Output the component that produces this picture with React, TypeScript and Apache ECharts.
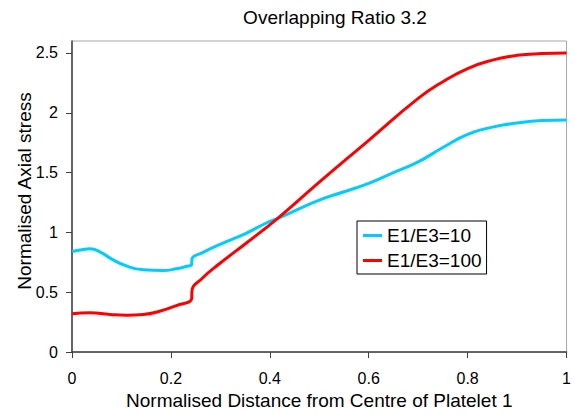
import React, { useEffect, useRef } from "react";
import * as echarts from "echarts";

const titleText = "Overlapping Ratio 3.2";
const xAxisTitle = "Normalised Distance from Centre of Platelet 1";
const yAxisTitle = "Normalised Axial stress";

const seriesNames = ["E1/E3=10", "E1/E3=100"];

const cyanX = [0, 0.02, 0.036, 0.06, 0.077, 0.11, 0.144, 0.184, 0.211, 0.23, 0.242, 0.2425, 0.264, 0.312, 0.352, 0.392, 0.416, 0.45, 0.5, 0.55, 0.6, 0.65, 0.7, 0.75, 0.8, 0.85, 0.9, 0.95, 1.0];
const cyanY = [0.84, 0.855, 0.863, 0.83, 0.785, 0.72, 0.688, 0.682, 0.696, 0.715, 0.735, 0.777, 0.832, 0.923, 0.993, 1.077, 1.118, 1.18, 1.27, 1.34, 1.41, 1.5, 1.59, 1.71, 1.82, 1.88, 1.915, 1.935, 1.94];

const redX = [0, 0.036, 0.077, 0.11, 0.144, 0.177, 0.211, 0.242, 0.2425, 0.264, 0.298, 0.352, 0.416, 0.5, 0.6, 0.7, 0.75, 0.8, 0.85, 0.9, 0.95, 1.0];
const redY = [0.32, 0.328, 0.314, 0.308, 0.314, 0.341, 0.389, 0.447, 0.508, 0.619, 0.738, 0.91, 1.118, 1.42, 1.77, 2.12, 2.26, 2.37, 2.44, 2.48, 2.495, 2.5];

const xTicks = [0, 0.2, 0.4, 0.6, 0.8, 1];
const yTicks = [0, 0.5, 1, 1.5, 2, 2.5];

const colors = ["#00CCFF", "#FF0000"];

function pairs(xs: number[], ys: number[]) {
  return xs.map((x, i) => [x, ys[i]]);
}

export default function App() {
  const ref = useRef<HTMLDivElement>(null);
  useEffect(() => {
    if (!ref.current) return;
    const chart = echarts.init(ref.current, null, { renderer: "svg" });
    const font = "Liberation Sans, Arial, sans-serif";
    chart.setOption({
      animation: false,
      backgroundColor: "#ffffff",
      textStyle: { fontFamily: font },
      grid: {
        left: 72,
        right: 6,
        top: 41,
        bottom: 62,
        show: true,
        borderColor: "#a6a6a6",
        borderWidth: 1,
        backgroundColor: "#ffffff",
      },
      graphic: [
        {
          type: "text",
          x: 335,
          y: 17,
          style: {
            text: titleText,
            align: "center",
            verticalAlign: "middle",
            fontSize: 19,
            fontFamily: font,
            fill: "#000",
          },
        },
        {
          type: "text",
          x: 24,
          y: 191,
          rotation: Math.PI / 2,
          style: {
            text: yAxisTitle,
            align: "center",
            verticalAlign: "middle",
            fontSize: 19,
            fontFamily: font,
            fill: "#000",
          },
        },
      ],
      legend: {
        left: 357,
        top: 221,
        orient: "vertical",
        data: seriesNames,
        icon: "rect",
        itemWidth: 19,
        itemHeight: 3,
        itemGap: 6,
        padding: [5, 5, 4, 6],
        borderColor: "#000",
        borderWidth: 1,
        backgroundColor: "#fff",
        textStyle: { fontSize: 19, color: "#000", fontFamily: font },
      },
      xAxis: {
        type: "value",
        min: 0,
        max: 1,
        interval: 0.2,
        name: xAxisTitle,
        nameLocation: "middle",
        nameGap: 33,
        nameTextStyle: { fontSize: 19, color: "#000", fontFamily: font },
        axisLine: { onZero: false, lineStyle: { color: "#404040", width: 1.5 } },
        axisTick: { show: true, length: 6, customValues: xTicks, lineStyle: { color: "#404040" } },
        axisLabel: {
          customValues: xTicks,
          fontSize: 16,
          color: "#000",
          margin: 18,
          formatter: (v: number) => String(Math.round(v * 10) / 10),
        },
        splitLine: { show: false },
      },
      yAxis: {
        type: "value",
        min: 0,
        max: 2.6,
        interval: 0.5,
        axisLine: { show: true, onZero: false, lineStyle: { color: "#404040", width: 1.5 } },
        axisTick: { show: true, length: 6, customValues: yTicks, lineStyle: { color: "#404040" } },
        axisLabel: {
          customValues: yTicks,
          fontSize: 16,
          color: "#000",
          margin: 14,
          formatter: (v: number) => String(Math.round(v * 10) / 10),
        },
        splitLine: { show: false },
      },
      series: [
        {
          name: seriesNames[0],
          type: "line",
          data: pairs(cyanX, cyanY),
          showSymbol: false,
          symbol: "none",
          smooth: 0.5,
          lineStyle: { color: colors[0], width: 3 },
          itemStyle: { color: colors[0] },
        },
        {
          name: seriesNames[1],
          type: "line",
          data: pairs(redX, redY),
          showSymbol: false,
          symbol: "none",
          smooth: 0.5,
          lineStyle: { color: colors[1], width: 3 },
          itemStyle: { color: colors[1] },
        },
      ],
    });
    return () => chart.dispose();
  }, []);
  return (
    <div
      ref={ref}
      style={{ position: "fixed", left: 0, top: 0, width: 574, height: 415 }}
    />
  );
}
